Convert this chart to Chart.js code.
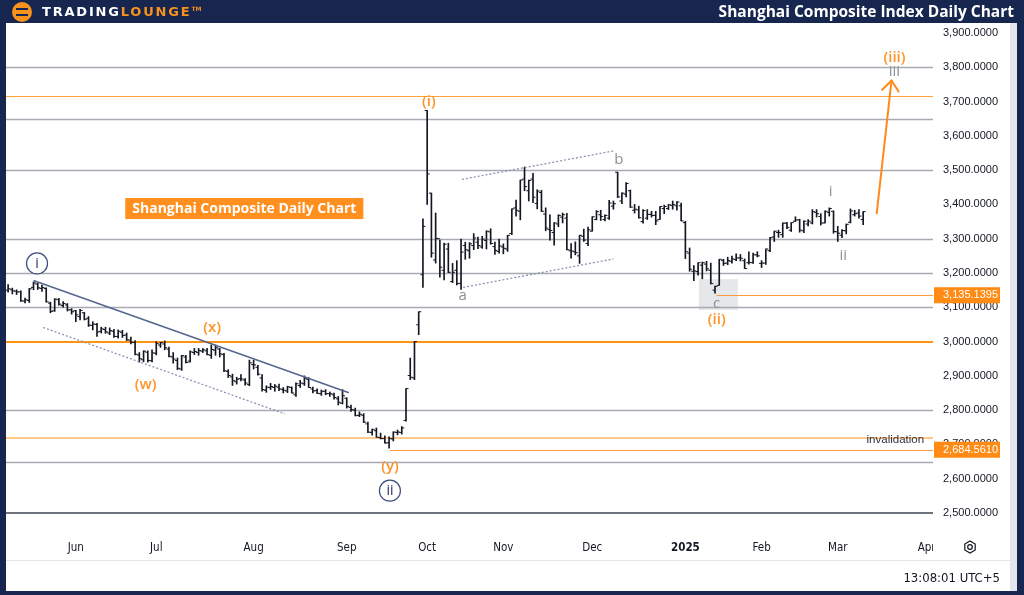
<!DOCTYPE html>
<html>
<head>
<meta charset="utf-8">
<script src="https://cdn.jsdelivr.net/npm/chart.js@4.4.1/dist/chart.umd.min.js"></script>
<style>
html,body{margin:0;padding:0;width:1024px;height:595px;overflow:hidden;background:#17264f;font-family:"Open Sans","Liberation Sans",sans-serif;}
#panel{position:absolute;left:6px;top:23px;width:1004px;height:568px;background:#ffffff;}
#strip{position:absolute;left:1010px;top:23px;width:7px;height:568px;background:#e4e6eb;}
#sep{position:absolute;left:6px;top:560px;width:1004px;height:1px;background:#e3e5ea;}
#cv{position:absolute;left:0;top:0;z-index:2;}
#logo{position:absolute;left:12px;top:1px;height:21px;display:flex;align-items:center;z-index:3;}
#icon{width:20px;height:20px;border-radius:50%;background:#f7921e;position:relative;overflow:hidden;}
#icon .b{position:absolute;left:4px;width:12px;height:2px;background:#17264f;}
#ltxt{margin-left:10px;font-family:"DejaVu Sans","Liberation Sans",sans-serif;font-weight:bold;font-size:13px;letter-spacing:1.8px;color:#fff;}
#ltxt span{color:#f7921e;}
#ltxt sup{font-size:6px;color:#f7921e;letter-spacing:0;}
#title{position:absolute;right:10px;top:0px;height:23px;line-height:23px;color:#fff;font-weight:bold;font-size:15.5px;z-index:3;}
#ts{position:absolute;right:24px;top:570px;font-family:"Liberation Sans Narrow","DejaVu Sans Condensed","Liberation Sans",sans-serif;font-size:13px;color:#131722;z-index:3;}
</style>
</head>
<body>
<div id="panel"></div>
<div id="strip"></div>
<div id="sep"></div>
<div id="logo"><div id="icon"><div class="b" style="top:6px"></div><div class="b" style="top:12px"></div></div><div id="ltxt">TRADING<span>LOUNGE</span><sup>TM</sup></div></div>
<div id="title">Shanghai Composite Index Daily Chart</div>
<div id="ts">13:08:01 UTC+5</div>
<canvas id="cv" width="1024" height="595"></canvas>
<script>
// ---------------- DATA ----------------
const dates = [
'2024-05-10','2024-05-13','2024-05-14','2024-05-15','2024-05-16','2024-05-17','2024-05-20','2024-05-21','2024-05-22','2024-05-23','2024-05-24','2024-05-27','2024-05-28','2024-05-29','2024-05-30','2024-05-31',
'2024-06-03','2024-06-04','2024-06-05','2024-06-06','2024-06-07','2024-06-11','2024-06-12','2024-06-13','2024-06-14','2024-06-17','2024-06-18','2024-06-19','2024-06-20','2024-06-21','2024-06-24','2024-06-25','2024-06-26','2024-06-27','2024-06-28',
'2024-07-01','2024-07-02','2024-07-03','2024-07-04','2024-07-05','2024-07-08','2024-07-09','2024-07-10','2024-07-11','2024-07-12','2024-07-15','2024-07-16','2024-07-17','2024-07-18','2024-07-19','2024-07-22','2024-07-23','2024-07-24','2024-07-25','2024-07-26','2024-07-29','2024-07-30','2024-07-31',
'2024-08-01','2024-08-02','2024-08-05','2024-08-06','2024-08-07','2024-08-08','2024-08-09','2024-08-12','2024-08-13','2024-08-14','2024-08-15','2024-08-16','2024-08-19','2024-08-20','2024-08-21','2024-08-22','2024-08-23','2024-08-26','2024-08-27','2024-08-28','2024-08-29','2024-08-30',
'2024-09-02','2024-09-03','2024-09-04','2024-09-05','2024-09-06','2024-09-09','2024-09-10','2024-09-11','2024-09-12','2024-09-13','2024-09-18','2024-09-19','2024-09-20','2024-09-23','2024-09-24','2024-09-25','2024-09-26','2024-09-27','2024-09-30',
'2024-10-08','2024-10-09','2024-10-10','2024-10-11','2024-10-14','2024-10-15','2024-10-16','2024-10-17','2024-10-18','2024-10-21','2024-10-22','2024-10-23','2024-10-24','2024-10-25','2024-10-28','2024-10-29','2024-10-30','2024-10-31',
'2024-11-01','2024-11-04','2024-11-05','2024-11-06','2024-11-07','2024-11-08','2024-11-11','2024-11-12','2024-11-13','2024-11-14','2024-11-15','2024-11-18','2024-11-19','2024-11-20','2024-11-21','2024-11-22','2024-11-25','2024-11-26','2024-11-27','2024-11-28','2024-11-29',
'2024-12-02','2024-12-03','2024-12-04','2024-12-05','2024-12-06','2024-12-09','2024-12-10','2024-12-11','2024-12-12','2024-12-13','2024-12-16','2024-12-17','2024-12-18','2024-12-19','2024-12-20','2024-12-23','2024-12-24','2024-12-25','2024-12-26','2024-12-27','2024-12-30','2024-12-31',
'2025-01-02','2025-01-03','2025-01-06','2025-01-07','2025-01-08','2025-01-09','2025-01-10','2025-01-13','2025-01-14','2025-01-15','2025-01-16','2025-01-17','2025-01-20','2025-01-21','2025-01-22','2025-01-23','2025-01-24','2025-01-27',
'2025-02-05','2025-02-06','2025-02-07','2025-02-10','2025-02-11','2025-02-12','2025-02-13','2025-02-14','2025-02-17','2025-02-18','2025-02-19','2025-02-20','2025-02-21','2025-02-24','2025-02-25','2025-02-26','2025-02-27','2025-02-28',
'2025-03-03','2025-03-04','2025-03-05','2025-03-06','2025-03-07','2025-03-10','2025-03-11'
];
const opens = [
3150,3151,3147,3145,3118,3120,3158,3168,3155,3155,3112,3090,3122,3105,3107,3093,
3090,3073,3084,3068,3047,3050,3030,3035,3025,3030,3015,3027,3019,3004,2997,2961,2947,2969,2944,
2966,2990,2993,2978,2955,2945,2920,2955,2943,2968,2968,2972,2973,2960,2975,2978,2962,2913,2897,2883,2892,2888,2875,
2933,2925,2894,2858,2866,2866,2867,2860,2856,2866,2845,2872,2877,2890,2862,2857,2848,2855,2848,2845,2833,2820,
2835,2808,2800,2785,2785,2760,2735,2740,2720,2717,2705,2716,2735,2735,2770,2901,2894,3049,3195,
3674,3433,3238,3300,3208,3270,3175,3208,3170,3280,3265,3280,3290,3276,3295,3320,3277,3263,
3276,3270,3315,3390,3380,3474,3440,3474,3403,3435,3372,3327,3318,3343,3363,3360,3265,3262,3250,3307,3286,
3322,3356,3370,3356,3360,3395,3494,3410,3430,3440,3383,3384,3350,3360,3371,3368,3356,3388,3388,3397,3396,3396,
3347,3258,3205,3204,3223,3226,3208,3150,3164,3237,3229,3234,3239,3244,3236,3230,3230,3253,
3228,3229,3265,3305,3318,3312,3345,3325,3351,3355,3323,3343,3346,3377,3365,3346,3377,3380,
3320,3310,3323,3348,3370,3375,3356
];
const highs = [
3166,3156,3151,3148,3127,3155,3174,3171,3165,3157,3115,3125,3126,3117,3111,3096,
3091,3094,3085,3073,3058,3053,3042,3042,3040,3036,3034,3033,3025,3013,3003,2968,2973,2973,2976,
3000,2998,3002,2984,2968,2952,2960,2960,2973,2980,2980,2980,2980,2990,2990,2980,2966,2918,2905,2896,2904,2892,2946,
2946,2931,2904,2871,2878,2875,2876,2866,2870,2868,2880,2887,2900,2895,2867,2862,2859,2860,2853,2850,2840,2860,
2836,2815,2806,2795,2790,2765,2745,2748,2733,2725,2722,2737,2742,2752,2863,2952,3000,3087,3358,
3674,3433,3375,3296,3287,3287,3228,3236,3299,3290,3289,3315,3305,3307,3323,3329,3290,3299,
3285,3310,3387,3413,3471,3509,3471,3491,3443,3441,3390,3370,3347,3370,3375,3374,3286,3291,3310,3328,3334,
3364,3382,3383,3370,3412,3410,3494,3434,3464,3442,3400,3395,3385,3385,3380,3380,3394,3398,3400,3410,3408,3404,
3351,3273,3222,3230,3232,3234,3229,3162,3240,3240,3246,3249,3256,3254,3241,3262,3258,3262,
3236,3270,3304,3322,3325,3346,3348,3347,3364,3357,3352,3356,3385,3385,3373,3381,3390,3381,
3336,3327,3343,3387,3383,3385,3379
];
const lows = [
3144,3139,3137,3117,3113,3114,3151,3152,3146,3115,3084,3088,3106,3100,3089,3080,
3058,3063,3063,3044,3034,3015,3025,3024,3020,3012,3010,3012,3003,2993,2961,2940,2941,2940,2941,
2961,2983,2976,2955,2937,2918,2916,2938,2940,2962,2960,2968,2961,2951,2960,2955,2912,2895,2872,2876,2885,2873,2871,
2920,2902,2855,2852,2860,2855,2857,2850,2851,2850,2840,2866,2872,2866,2850,2848,2843,2845,2840,2832,2815,2818,
2806,2796,2783,2781,2764,2734,2727,2721,2716,2704,2689,2710,2728,2730,2768,2889,2889,3020,3158,
3400,3246,3229,3188,3180,3201,3172,3165,3152,3240,3243,3268,3271,3272,3270,3284,3254,3258,
3256,3263,3312,3366,3355,3440,3410,3405,3387,3379,3323,3296,3281,3335,3346,3267,3243,3253,3228,3292,3280,
3322,3355,3353,3352,3356,3386,3420,3402,3422,3391,3375,3360,3345,3356,3363,3341,3356,3373,3385,3386,3383,3352,
3242,3205,3178,3194,3183,3206,3168,3141,3164,3222,3224,3229,3236,3235,3213,3226,3228,3247,
3216,3225,3262,3292,3304,3304,3329,3321,3350,3319,3318,3337,3343,3363,3340,3346,3366,3316,
3292,3303,3314,3346,3366,3360,3341
];
const closes = [
3154,3148,3145,3119,3122,3154,3171,3157,3158,3116,3088,3124,3109,3111,3092,3087,
3078,3091,3065,3048,3051,3028,3037,3028,3032,3015,3030,3018,3005,2998,2963,2950,2972,2945,2967,
2994,2997,2982,2957,2949,2922,2959,2939,2970,2971,2974,2976,2962,2977,2982,2964,2915,2901,2886,2890,2891,2879,2938,
2932,2905,2860,2867,2869,2870,2862,2858,2868,2850,2877,2879,2893,2866,2856,2849,2855,2848,2848,2837,2823,2842,
2811,2802,2784,2788,2765,2736,2744,2721,2717,2704,2717,2736,2736,2748,2863,2896,3000,3087,3336,
3489,3258,3301,3217,3284,3202,3202,3169,3261,3268,3285,3302,3280,3299,3322,3286,3266,3279,
3272,3310,3387,3383,3471,3452,3470,3421,3439,3380,3331,3324,3346,3368,3370,3268,3264,3259,3310,3296,3326,
3364,3379,3365,3368,3404,3402,3422,3433,3461,3392,3386,3361,3382,3371,3368,3352,3394,3394,3399,3400,3407,3352,
3262,3211,3206,3230,3230,3212,3169,3161,3240,3228,3236,3241,3244,3243,3213,3231,3253,3250,
3229,3270,3303,3322,3318,3346,3333,3347,3355,3325,3351,3351,3379,3373,3346,3380,3388,3321,
3316,3324,3342,3381,3373,3366,3379
];
const monthTickIndex = [16,35,58,80,99,117,138,160,178,196,217];
const monthTickLabels = ['Jun','Jul','Aug','Sep','Oct','Nov','Dec','2025','Feb','Mar','Apr'];
const priceTicks = [2500,2600,2700,2800,2900,3000,3100,3200,3300,3400,3500,3600,3700,3800,3900];
const grayLevels = [3800,3650,3500,3300,3200,3100,2800,2650];
const baseLevel = 2500;
const orangeLevels = [3716,3000,2720];
const keyLevels = [{v:3135.1395, from:167.4},{v:2684.5610, from:90.2}];
// ---------------- END DATA ----------------

const NAVY='#1e3163', GRAYTXT='#8e9099';
const annotations = {
  trend:{a:[6,3178],b:[80.5,2851]},
  dotted:{a:[8.3,3041],b:[65.4,2789]},
  chanTop:{a:[107.2,3473],b:[143,3556]},
  chanBot:{a:[107.5,3158],b:[143,3241]},
  box:{x0:163.2,x1:172.4,v0:3182,v1:3092},
  arrow:{a:[205.2,3374],b:[208.7,3761]},
  circles:[{t:'i',i:6.83,v:3228},{t:'ii',i:90.2,v:2565}],
  orangeTxt:[{t:'(x)',i:48.2,v:3041},{t:'(w)',i:32.5,v:2873},{t:'(y)',i:90.2,v:2635},{t:'(i)',i:99.4,v:3699},{t:'(ii)',i:167.4,v:3065},{t:'(iii)',i:209.4,v:3829}],
  grayTxt:[{t:'b',i:144.3,v:3530},{t:'a',i:107.4,v:3133},{t:'c',i:167.4,v:3110},{t:'i',i:194.3,v:3437},{t:'ii',i:197.3,v:3250},{t:'iii',i:209.4,v:3787}],
  invalid:{t:'invalidation',i:209.6,v:2712},
  tag:{t:'Shanghai Composite Daily Chart',i:55.8,v:3388}
};

const fmt = v => v.toLocaleString('en-US',{minimumFractionDigits:4,maximumFractionDigits:4});

const drawPlugin = {
  id:'tl',
  beforeDatasetsDraw(c){
    const ctx=c.ctx, X=c.scales.x, Y=c.scales.y, ca=c.chartArea;
    ctx.save();
    const b=annotations.box;
    ctx.fillStyle='rgba(205,207,214,0.5)';
    const bx0=X.getPixelForValue(b.x0), bx1=X.getPixelForValue(b.x1), by0=Y.getPixelForValue(b.v0), by1=Y.getPixelForValue(b.v1);
    ctx.fillRect(bx0,by0,bx1-bx0,by1-by0);
    const hline=(v,col,w,x0)=>{const y=Math.round(Y.getPixelForValue(v))+(w%2?0.5:0);ctx.strokeStyle=col;ctx.lineWidth=w;ctx.beginPath();ctx.moveTo(x0===undefined?ca.left:x0,y);ctx.lineTo(ca.right,y);ctx.stroke();};
    grayLevels.forEach(v=>hline(v,'#a7aab2',1.5));
    hline(baseLevel,'#6e727d',2);
    hline(orangeLevels[0],'#ffa23a',1);
    hline(orangeLevels[1],'#ff9410',2);
    hline(orangeLevels[2],'#ffc987',2);
    keyLevels.forEach(k=>hline(k.v,'#ff9a3a',1,X.getPixelForValue(k.from)));
    ctx.restore();
  },
  afterDatasetsDraw(c){
    const ctx=c.ctx, X=c.scales.x, Y=c.scales.y;
    const P=(i,v)=>[X.getPixelForValue(i),Y.getPixelForValue(v)];
    ctx.save();
    ctx.fillStyle='#131722';
    for(let i=0;i<dates.length;i++){
      const x=X.getPixelForValue(i);
      const yo=Y.getPixelForValue(opens[i]), yc=Y.getPixelForValue(closes[i]);
      ctx.fillRect(x-2.5,yo-0.5,2.5,1);
      ctx.fillRect(x,yc-0.5,2.5,1);
    }
    const seg=(a,b,col,w,dash)=>{const p=P(a[0],a[1]),q=P(b[0],b[1]);ctx.strokeStyle=col;ctx.lineWidth=w;ctx.setLineDash(dash||[]);ctx.beginPath();ctx.moveTo(p[0],p[1]);ctx.lineTo(q[0],q[1]);ctx.stroke();ctx.setLineDash([]);};
    seg(annotations.trend.a,annotations.trend.b,'#56668f',1.6);
    seg(annotations.dotted.a,annotations.dotted.b,'#8a93b5',1.3,[2,2]);
    seg(annotations.chanTop.a,annotations.chanTop.b,'#8a93b5',1.3,[2,2]);
    seg(annotations.chanBot.a,annotations.chanBot.b,'#8a93b5',1.3,[2,2]);
    const A=P(...annotations.arrow.a), B=P(...annotations.arrow.b);
    ctx.strokeStyle='#ff8a1c';ctx.lineWidth=2;ctx.lineCap='round';
    ctx.beginPath();ctx.moveTo(A[0],A[1]);ctx.lineTo(B[0],B[1]);ctx.stroke();
    const ang=Math.atan2(B[1]-A[1],B[0]-A[0]), L=13;
    ctx.beginPath();
    ctx.moveTo(B[0]+L*Math.cos(ang+2.45),B[1]+L*Math.sin(ang+2.45));
    ctx.lineTo(B[0],B[1]);
    ctx.lineTo(B[0]+L*Math.cos(ang-2.45),B[1]+L*Math.sin(ang-2.45));
    ctx.stroke();
    ctx.textAlign='center';ctx.textBaseline='middle';
    annotations.circles.forEach(o=>{const p=P(o.i,o.v);ctx.beginPath();ctx.arc(p[0],p[1],10.5,0,Math.PI*2);ctx.fillStyle='#fff';ctx.fill();ctx.strokeStyle='#3d4e7e';ctx.lineWidth=1.2;ctx.stroke();ctx.fillStyle=NAVY;ctx.font='14px "Open Sans"';ctx.fillText(o.t,p[0],p[1]+0.5);});
    ctx.font='600 15px "Open Sans"';ctx.fillStyle='#ff9326';
    annotations.orangeTxt.forEach(o=>{const p=P(o.i,o.v);ctx.fillText(o.t,p[0],p[1]);});
    ctx.font='15px "Open Sans"';ctx.fillStyle=GRAYTXT;
    annotations.grayTxt.forEach(o=>{const p=P(o.i,o.v);ctx.fillText(o.t,p[0],p[1]);});
    const iv=P(annotations.invalid.i,annotations.invalid.v);
    ctx.font='11.5px "Liberation Sans"';ctx.fillStyle='#2f3340';ctx.fillText(annotations.invalid.t,iv[0],iv[1]);
    const tg=P(annotations.tag.i,annotations.tag.v);
    ctx.font='bold 14px "Open Sans"';
    const w=ctx.measureText(annotations.tag.t).width+14;
    ctx.fillStyle='#ff8f1f';ctx.fillRect(tg[0]-w/2,tg[1]-10.5,w,21);
    ctx.fillStyle='#fff';ctx.fillText(annotations.tag.t,tg[0],tg[1]+0.5);
    ctx.restore();
  },
  afterDraw(c){
    const ctx=c.ctx, Y=c.scales.y, ca=c.chartArea;
    ctx.save();
    ctx.font='11px "Liberation Sans"';ctx.textAlign='left';ctx.textBaseline='middle';
    keyLevels.forEach(k=>{const y=Y.getPixelForValue(k.v);ctx.fillStyle='#ff8a14';ctx.fillRect(ca.right+1,y-8,66,16);ctx.fillStyle='#fff';ctx.fillText(fmt(k.v),ca.right+10,y);});
    ctx.fillStyle='#fff';ctx.fillRect(ca.right,ca.bottom+1,77,28);
    const gx=970, gy=547;
    ctx.strokeStyle='#131722';ctx.lineWidth=1.2;ctx.beginPath();
    for(let k=0;k<6;k++){const a=Math.PI/3*k+Math.PI/6;const x=gx+6*Math.cos(a), y=gy+6*Math.sin(a);k?ctx.lineTo(x,y):ctx.moveTo(x,y);}
    ctx.closePath();ctx.stroke();
    ctx.beginPath();ctx.arc(gx,gy,2.3,0,Math.PI*2);ctx.stroke();
    ctx.restore();
  }
};

new Chart(document.getElementById('cv'),{
  type:'bar',
  data:{datasets:[{
    data:dates.map((d,i)=>({x:i,y:[lows[i],highs[i]]})),
    backgroundColor:'#131722',borderWidth:0,barThickness:1,grouped:false
  }]},
  options:{
    responsive:false,animation:false,devicePixelRatio:1,
    layout:{padding:{left:6,top:23,right:14,bottom:35}},
    plugins:{legend:{display:false},tooltip:{enabled:false}},
    scales:{
      x:{type:'linear',min:-0.5,max:218.5,offset:false,
        grid:{display:false,drawTicks:false,offset:false},border:{display:false},
        afterBuildTicks:s=>{s.ticks=monthTickIndex.map(v=>({value:v}));},
        afterFit:s=>{s.height=30;},
        ticks:{autoSkip:false,maxRotation:0,padding:11,color:'#131722',
          callback:(v,i)=>monthTickLabels[i],
          font:ctx=>({family:'"Liberation Sans Narrow","DejaVu Sans Condensed","Liberation Sans",sans-serif',size:11.5,weight:monthTickLabels[ctx.index]==='2025'?'bold':'normal'})}
      },
      y:{type:'linear',position:'right',min:2450.4,max:3929.2,
        grid:{display:false,drawTicks:false},border:{display:false},
        afterBuildTicks:s=>{s.ticks=priceTicks.map(v=>({value:v}));},
        afterFit:s=>{s.width=77;},
        ticks:{padding:10,color:'#131722',font:{family:'"Liberation Sans",sans-serif',size:11},callback:v=>fmt(v)}
      }
    }
  },
  plugins:[drawPlugin]
});
</script>
</body>
</html>
